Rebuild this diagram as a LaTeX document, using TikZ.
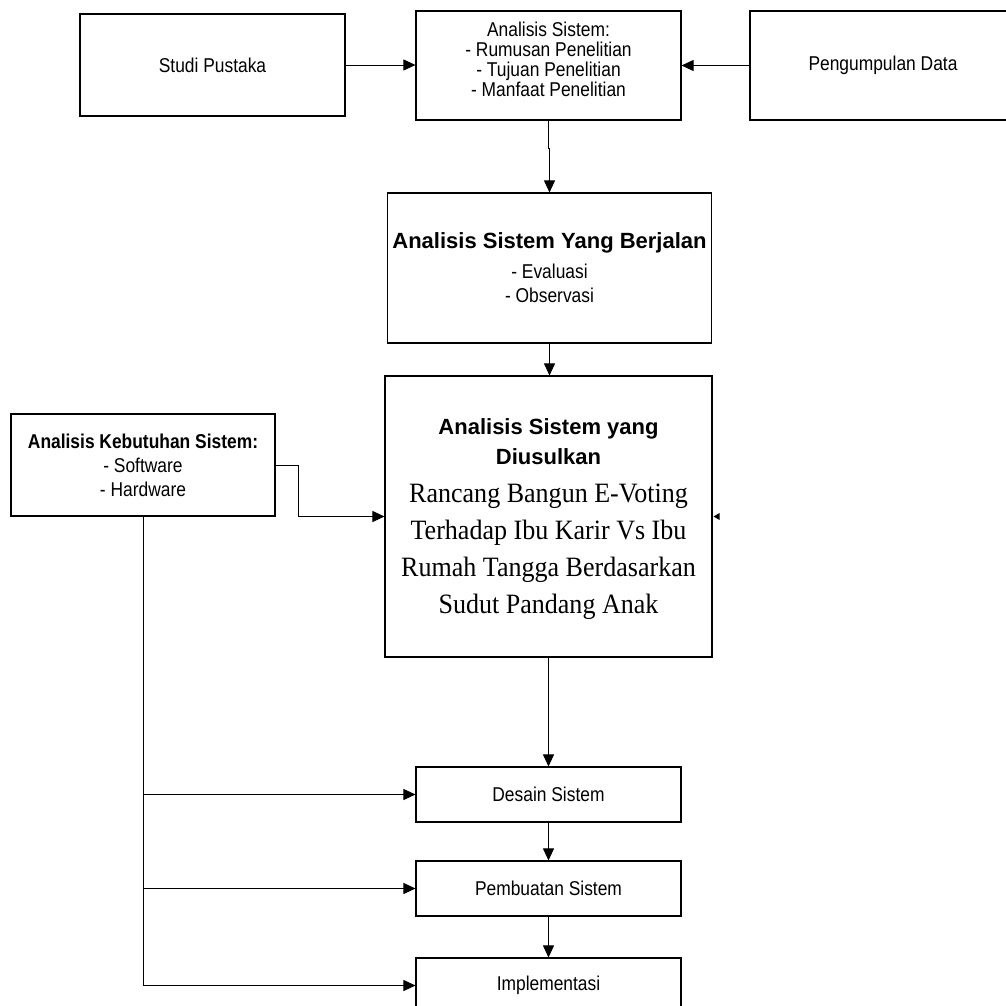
\documentclass[tikz,border=0pt]{standalone}
\usepackage{fontspec}
\setmainfont{Liberation Sans}
\newfontfamily\nsans[FakeStretch=0.87]{Liberation Sans}
\newfontfamily\nserif[FakeStretch=0.93]{Liberation Serif}
\usetikzlibrary{arrows.meta}

\begin{document}
\begin{tikzpicture}[x=1pt,y=-1pt,
  box/.style={draw=black, line width=1.1pt, inner sep=0pt, align=center,
    font=\nsans\fontsize{20}{20}\selectfont},
  wire/.style={draw=black, line width=0.8pt},
  conn/.style={wire, -{Triangle[length=12pt,width=11pt]}},
  txt/.style={inner sep=0pt, align=center, font=\nsans\fontsize{20}{20}\selectfont},
  bigbold/.style={inner sep=0pt, align=center, font=\bfseries\fontsize{22}{30}\selectfont},
  serifbody/.style={inner sep=0pt, align=center, font=\nserif\fontsize{28}{37}\selectfont}]

\useasboundingbox (0,0) rectangle (1006,1006);

% top row
\node[box, minimum width=265pt, minimum height=102pt] (studi) at (212.5,65) {Studi Pustaka};
\node[box, minimum width=265pt, minimum height=109pt] (anal) at (548.5,65.5) {};
\node[box, minimum width=266pt, minimum height=109pt] (peng) at (883,65.5) {Pengumpulan Data};
\node[txt] (analT) at (548.5,59) {Analisis Sistem:\\- Rumusan Penelitian\\- Tujuan Penelitian\\- Manfaat Penelitian};

% current system analysis
\node[box, minimum width=324pt, minimum height=150pt] (ber) at (549.5,268) {};
\node[bigbold] (berT) at (549.5,243) {Analisis Sistem Yang Berjalan};
\node[txt, font=\nsans\fontsize{20}{24}\selectfont] (berL) at (549.5,283) {- Evaluasi\\- Observasi};

% proposed system analysis
\node[box, minimum width=327pt, minimum height=281pt] (usul) at (548.5,516.5) {};
\node[bigbold] (usulT) at (548.5,442) {Analisis Sistem yang\\Diusulkan};
\node[serifbody] (usulS) at (548.5,552) {Rancang Bangun E-Voting\\Terhadap Ibu Karir Vs Ibu\\Rumah Tangga Berdasarkan\\Sudut Pandang Anak};

% requirements
\node[box, minimum width=264pt, minimum height=102pt, font=\nsans\fontsize{20}{24}\selectfont] (keb) at (143,465)
  {{\bfseries Analisis Kebutuhan Sistem:}\\- Software\\- Hardware};

% lower stages
\node[box, minimum width=265pt, minimum height=55pt] (des) at (548.5,794.5) {Desain Sistem};
\node[box, minimum width=265pt, minimum height=55pt] (pem) at (548.5,888.5) {Pembuatan Sistem};
\node[box, minimum width=265pt, minimum height=55pt] (imp) at (548.5,985.5) {Implementasi};

% connectors
\draw[conn] (studi.east) -- (studi.east -| anal.west);
\draw[conn] (peng.west) -- (peng.west -| anal.east);
\draw[conn] (anal.south) -- ++(0,28) -| (ber.north);
\draw[conn] (ber.south) -- (ber.south |- usul.north);
\draw[conn] (keb.east) -- ++(23,0) |- (usul.west);
\draw[conn] (usul.south) -- (des.north);
\draw[conn] (des.south) -- (pem.north);
\draw[conn] (pem.south) -- (imp.north);

% requirements feed every stage
\draw[wire] (keb.south) -- (keb.south |- imp.west);
\draw[conn] (keb.south |- des.west) -- (des.west);
\draw[conn] (keb.south |- pem.west) -- (pem.west);
\draw[conn] (keb.south |- imp.west) -- (imp.west);

% small arrow tip on the right side of the proposed-system box
\fill ([xshift=1pt]usul.east) -- ++(6,-3.5) -- ++(0,7) -- cycle;
\end{tikzpicture}
\end{document}
